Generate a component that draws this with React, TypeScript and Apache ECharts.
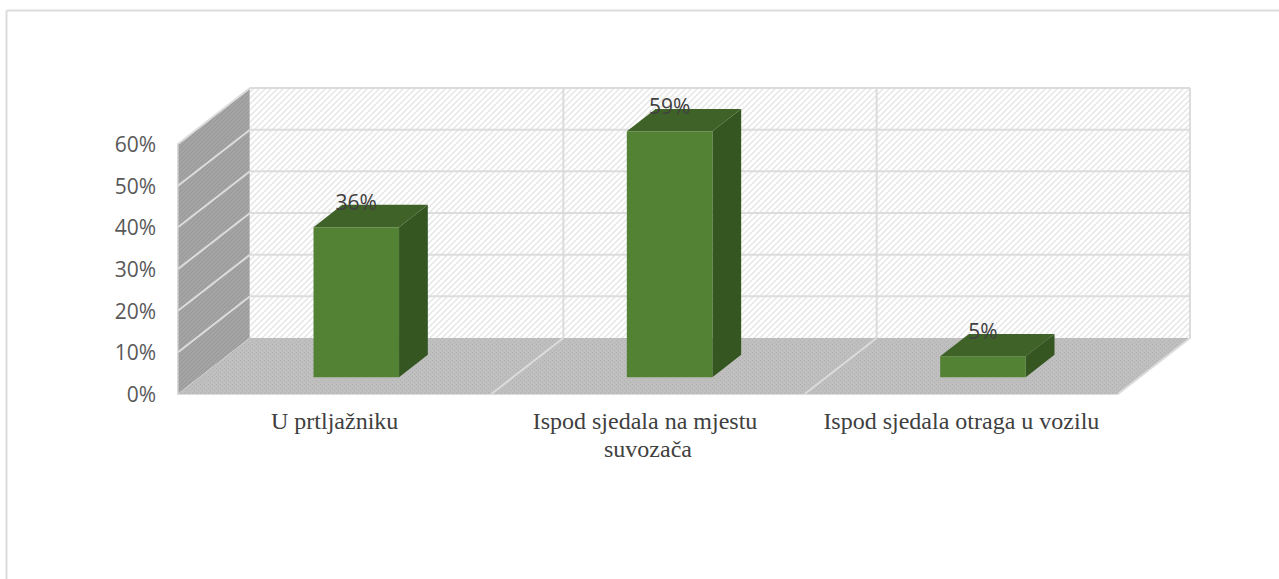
import React, { useEffect, useRef } from "react";
import * as echarts from "echarts";

const categories = ["U prtljažniku", "Ispod sjedala na mjestu suvozača", "Ispod sjedala otraga u vozilu"];
const values = [0.36, 0.59, 0.05];
const axisMax = 0.6;
const axisStep = 0.1;
const gridTicks = [0, 0.1, 0.2, 0.3, 0.4, 0.5, 0.6];

// 3D projection of the chart box
const DEPTH_X = 72;
const DEPTH_Y = -56;
const BAR_NEAR = 0.3;
const BAR_FAR = 0.7;
const BAR_WIDTH = 0.273;
const LINE = "#dcdcdc";

function tile(size: number, bg: string, draw: (c: CanvasRenderingContext2D) => void) {
  const cv = document.createElement("canvas");
  cv.width = size;
  cv.height = size;
  const c = cv.getContext("2d")!;
  c.fillStyle = bg;
  c.fillRect(0, 0, size, size);
  draw(c);
  return cv;
}

function diagonal(size: number, bg: string, fg: string, w: number) {
  return tile(size, bg, (c) => {
    c.strokeStyle = fg;
    c.lineWidth = w;
    c.beginPath();
    c.moveTo(-1, size + 1);
    c.lineTo(size + 1, -1);
    c.moveTo(-1, 1);
    c.lineTo(1, -1);
    c.moveTo(size - 1, size + 1);
    c.lineTo(size + 1, size - 1);
    c.stroke();
  });
}

function dotted(size: number, bg: string, fg: string) {
  return tile(size, bg, (c) => {
    c.fillStyle = fg;
    c.fillRect(0, 0, 1, 1);
    c.fillRect(size / 2, size / 2, 1, 1);
  });
}

export default function App() {
  const ref = useRef<HTMLDivElement>(null);
  useEffect(() => {
    const chart = echarts.init(ref.current!, undefined, { renderer: "svg" });
    const backFill = { image: diagonal(6, "#ffffff", "#e6e6e6", 1.5), repeat: "repeat" };
    const sideFill = { image: diagonal(4, "#a6a6a6", "#999999", 1.1), repeat: "repeat" };
    const floorFill = { image: dotted(4, "#bfbfbf", "#b0b0b0"), repeat: "repeat" };

    const renderWalls = (_p: any, api: any) => {
      const band = api.size([1, 0])[0];
      const [x0, y0] = api.coord([0, 0]);
      const x0L = x0 - band / 2;
      const xR = x0L + band * categories.length;
      const yTop = api.coord([0, axisMax])[1];
      const bx = DEPTH_X;
      const by = DEPTH_Y;
      const children: any[] = [
        {
          type: "polygon",
          shape: { points: [[x0L, y0], [x0L + bx, y0 + by], [x0L + bx, yTop + by], [x0L, yTop]] },
          style: { fill: sideFill, stroke: LINE, lineWidth: 1 },
        },
        {
          type: "polygon",
          shape: { points: [[x0L + bx, y0 + by], [xR + bx, y0 + by], [xR + bx, yTop + by], [x0L + bx, yTop + by]] },
          style: { fill: backFill },
        },
        {
          type: "polygon",
          shape: { points: [[x0L, y0], [xR, y0], [xR + bx, y0 + by], [x0L + bx, y0 + by]] },
          style: { fill: floorFill },
        },
      ];
      const seg = (a: number[], b: number[]) => ({
        type: "line",
        shape: { x1: a[0], y1: a[1], x2: b[0], y2: b[1] },
        style: { stroke: LINE, lineWidth: 2 },
      });
      gridTicks.forEach((t) => {
        const y = api.coord([0, t])[1];
        if (t > 0) {
          children.push(seg([x0L, y], [x0L + bx, y + by]));
          children.push(seg([x0L + bx, y + by], [xR + bx, y + by]));
        }
      });
      for (let i = 1; i <= categories.length; i++) {
        const x = x0L + band * i;
        if (i < categories.length) {
          children.push(seg([x, y0], [x + bx, y0 + by]));
        }
        children.push(seg([x + bx, y0 + by], [x + bx, yTop + by]));
      }
      children.push(seg([xR, y0], [xR + bx, y0 + by]));
      return { type: "group", children };
    };

    const renderBar = (_p: any, api: any) => {
      const band = api.size([1, 0])[0];
      const [cx, vy] = api.coord([api.value(0), api.value(1)]);
      const [, y0] = api.coord([api.value(0), 0]);
      const w = band * BAR_WIDTH;
      const nx = cx + DEPTH_X * BAR_NEAR;
      const l = nx - w / 2;
      const r = nx + w / 2;
      const b = y0 + DEPTH_Y * BAR_NEAR;
      const t = vy + DEPTH_Y * BAR_NEAR;
      const dx = DEPTH_X * (BAR_FAR - BAR_NEAR);
      const dy = DEPTH_Y * (BAR_FAR - BAR_NEAR);
      return {
        type: "group",
        children: [
          { type: "polygon", shape: { points: [[r, b], [r + dx, b + dy], [r + dx, t + dy], [r, t]] }, style: { fill: "#355621" } },
          { type: "polygon", shape: { points: [[l, t], [r, t], [r + dx, t + dy], [l + dx, t + dy]] }, style: { fill: "#3f6229" } },
          { type: "rect", shape: { x: l, y: t, width: w, height: b - t }, style: { fill: "#548235" } },
          {
            type: "text",
            style: {
              text: Math.round(api.value(1) * 100) + "%",
              x: nx,
              y: t + dy - 3,
              align: "center",
              verticalAlign: "middle",
              fill: "#404040",
              font: '21px "Open Sans"',
            },
          },
        ],
      };
    };

    chart.setOption({
      animation: false,
      backgroundColor: "#ffffff",
      grid: { left: 178, top: 144, width: 940, height: 250 },
      graphic: [
        { type: "line", shape: { x1: 6.5, y1: 10.5, x2: 1279, y2: 10.5 }, style: { stroke: "#dcdcdc", lineWidth: 2 } },
        { type: "line", shape: { x1: 6.5, y1: 10.5, x2: 6.5, y2: 579 }, style: { stroke: "#dcdcdc", lineWidth: 2 } },
      ],
      xAxis: {
        type: "category",
        data: categories,
        axisTick: { show: false },
        axisLine: { show: true, lineStyle: { color: LINE, width: 2 } },
        axisLabel: {
          interval: 0,
          margin: 13,
          width: 290,
          overflow: "break",
          lineHeight: 28,
          color: "#404040",
          fontFamily: "Liberation Serif",
          fontSize: 24,
        },
      },
      yAxis: {
        type: "value",
        min: 0,
        max: axisMax,
        interval: axisStep,
        splitLine: { show: false },
        axisTick: { show: false },
        axisLine: { show: true, lineStyle: { color: LINE, width: 2 } },
        axisLabel: {
          margin: 22,
          color: "#595959",
          fontFamily: "Open Sans",
          fontSize: 21,
          formatter: (v: number) => Math.round(v * 100) + "%",
        },
      },
      series: [
        { type: "custom", data: [[0, 0]], encode: { x: 0, y: 1 }, clip: false, z: 1, silent: true, renderItem: renderWalls },
        {
          type: "custom",
          data: values.map((v, i) => [i, v]),
          encode: { x: 0, y: 1 },
          clip: false,
          z: 2,
          silent: true,
          renderItem: renderBar,
        },
      ],
    });
    return () => chart.dispose();
  }, []);
  return <div ref={ref} style={{ position: "fixed", left: 0, top: 0, width: 1279, height: 579 }} />;
}
